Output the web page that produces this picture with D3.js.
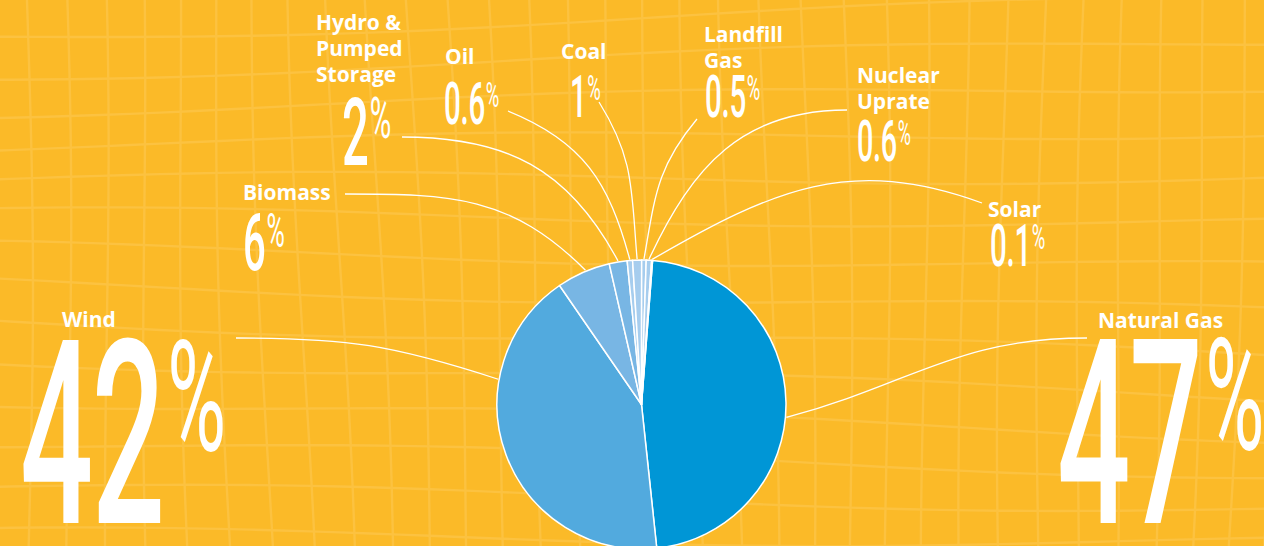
<!DOCTYPE html>
<html>
<head>
<meta charset="utf-8">
<script src="https://cdn.jsdelivr.net/npm/d3@7/dist/d3.min.js"></script>
<style>
  html, body { margin: 0; padding: 0; background: #fbba28; }
  svg { display: block; }
</style>
</head>
<body>
<svg id="chart" width="1264" height="546"></svg>
<script>
// ---- data ----
const categories = ["Natural Gas", "Wind", "Biomass", "Hydro & Pumped Storage", "Oil", "Coal", "Landfill Gas", "Nuclear Uprate", "Solar"];
const values = [47, 42, 6, 2, 0.6, 1, 0.5, 0.6, 0.1];
const valueLabels = ["47", "42", "6", "2", "0.6", "1", "0.5", "0.6", "0.1"];
const labelLines = [["Natural Gas"], ["Wind"], ["Biomass"], ["Hydro &", "Pumped", "Storage"], ["Oil"], ["Coal"], ["Landfill", "Gas"], ["Nuclear", "Uprate"], ["Solar"]];

// ---- layout (positions & styles) ----
const W = 1264, H = 546;
const cx = 641.5, cy = 404.5, R = 144.5;
const startDeg = 4.4;
const colors = ["#0096d6", "#52aade", "#78b6e4", "#78b6e4", "#a6cdee", "#a6cdee", "#a6cdee", "#a6cdee", "#a6cdee"];
const nameLayout = [
  {x: 1098, y: 328}, {x: 62, y: 327}, {x: 243, y: 200}, {x: 316, y: 30},
  {x: 445, y: 64}, {x: 561, y: 59}, {x: 704, y: 42}, {x: 857, y: 83}, {x: 988, y: 217}
];
const numLayout = [
  {x: 1057, top: 339, h: 184}, {x: 20, top: 340, h: 183}, {x: 243, top: 213, h: 57}, {x: 342, top: 98, h: 67},
  {x: 444, top: 82, h: 42}, {x: 570, top: 75, h: 42}, {x: 705, top: 75, h: 42}, {x: 857, top: 120, h: 41}, {x: 990, top: 224, h: 42}
];
// leader: start point, start direction, arrival direction (deg, svg coords), anchor fraction within slice
const leaderLayout = [
  {x: 1087, y: 338, d1: 180, d2: 165, f: 0.535}, {x: 236, y: 338, d1: 0, d2: 18, f: 0.70},
  {x: 345, y: 194, d1: 0, d2: 45, f: 0.55}, {x: 402, y: 137, d1: 0, d2: 62, f: 0.5},
  {x: 508, y: 111, d1: 22, d2: 75, f: 0.5}, {x: 599, y: 102, d1: 58, d2: 85, f: 0.5},
  {x: 697, y: 119, d1: 130, d2: 100, f: 0.5}, {x: 847, y: 110, d1: 180, d2: 115, f: 0.5},
  {x: 982, y: 203, d1: 200, d2: 150, f: 0.5}
];

const svg = d3.select("#chart");

// ---- background with warped grid ----
svg.append("rect").attr("width", W).attr("height", H).attr("fill", "#fbba28");
const grid = svg.append("g").attr("fill", "none").attr("stroke", "#fdca58").attr("stroke-width", 2.4).attr("opacity", 0.5);
const line = d3.line().curve(d3.curveBasis);
for (let i = -2; i < 36; i++) {
  const pts = [];
  for (let y = -20; y <= H + 20; y += 30) {
    const x0 = 28 + i * 39;
    const x = x0 + 5 * Math.sin(y / 170 + i * 0.6) + (y - 273) * 0.04 * Math.sin(x0 / 300);
    pts.push([x, y]);
  }
  grid.append("path").attr("d", line(pts));
}
for (let j = -2; j < 17; j++) {
  const pts = [];
  for (let x = -20; x <= W + 20; x += 30) {
    const y0 = 18 + j * 40;
    const y = y0 + 7 * Math.sin(x / 210 + j * 0.8) - (x - 632) * 0.03 * Math.cos(y0 / 120);
    pts.push([x, y]);
  }
  grid.append("path").attr("d", line(pts));
}

// ---- pie ----
const toRad = d => d * Math.PI / 180;
const pie = d3.pie().sort(null).value(d => d.v)
  .startAngle(toRad(startDeg)).endAngle(toRad(startDeg) + 2 * Math.PI);
const data = categories.map((c, i) => ({c, v: values[i], i}));
const arcs = pie(data);
const arc = d3.arc().innerRadius(0).outerRadius(R);

const g = svg.append("g").attr("transform", `translate(${cx},${cy})`);
g.selectAll("path").data(arcs).join("path")
  .attr("d", arc)
  .attr("fill", d => colors[d.data.i])
  .attr("stroke", "#fff").attr("stroke-width", 1.5).attr("stroke-linejoin", "round");

// ---- leader lines ----
const leaders = svg.append("g").attr("fill", "none").attr("stroke", "#fff").attr("stroke-width", 1.3);
arcs.forEach(a => {
  const L = leaderLayout[a.data.i];
  const ang = a.startAngle + (a.endAngle - a.startAngle) * L.f;
  const ex = cx + (R + 1) * Math.sin(ang), ey = cy - (R + 1) * Math.cos(ang);
  const dist = Math.hypot(ex - L.x, ey - L.y);
  const c1x = L.x + Math.cos(toRad(L.d1)) * dist * 0.42;
  const c1y = L.y + Math.sin(toRad(L.d1)) * dist * 0.42;
  const c2x = ex - Math.cos(toRad(L.d2)) * dist * 0.42;
  const c2y = ey - Math.sin(toRad(L.d2)) * dist * 0.42;
  leaders.append("path").attr("d", `M${L.x},${L.y} C${c1x},${c1y} ${c2x},${c2y} ${ex},${ey}`);
});

// ---- name labels ----
const names = svg.append("g").attr("fill", "#fff")
  .attr("font-family", "'Open Sans', 'Noto Sans', sans-serif").attr("font-weight", 700).attr("font-size", 21);
labelLines.forEach((lines, i) => {
  const t = names.append("text").attr("x", nameLayout[i].x).attr("y", nameLayout[i].y);
  lines.forEach((s, k) => {
    t.append("tspan").attr("x", nameLayout[i].x).attr("dy", k === 0 ? 0 : 26).text(s);
  });
});

// ---- big condensed numbers ----
const nums = svg.append("g").attr("fill", "#fff").attr("font-family", "Roboto, sans-serif").attr("font-weight", 500);
const capRatio = 0.711, sxDigits = 0.5, sxPct = 0.52, pctRatio = 0.6;
valueLabels.forEach((s, i) => {
  const N = numLayout[i];
  const fs = N.h / capRatio;
  const t = nums.append("text")
    .attr("transform", `translate(${N.x},${N.top + N.h}) scale(${sxDigits},1)`)
    .attr("font-size", fs).attr("letter-spacing", -0.01 * fs).text(s);
  const w = t.node().getComputedTextLength() * sxDigits;
  const ph = N.h * pctRatio;
  const pfs = ph / capRatio;
  nums.append("text")
    .attr("transform", `translate(${N.x + w + N.h * 0.02},${N.top + ph}) scale(${sxPct},1)`)
    .attr("font-size", pfs).attr("font-weight", 400).text("%");
});
</script>
</body>
</html>
